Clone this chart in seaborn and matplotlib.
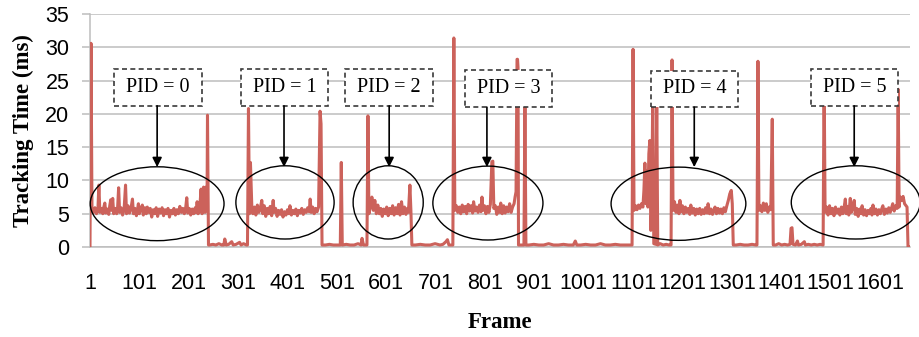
import matplotlib
matplotlib.use("Agg")
import matplotlib.pyplot as plt
import seaborn as sns
import pandas as pd
from matplotlib.patches import Rectangle, Ellipse

# ---------------- data (frame, tracking time in ms) ----------------
seg_pid0 = [(1, 0), (3, 30.6), (5, 5.8), (8, 5.2), (11, 5.9), (14, 5.0), (17, 5.6), (19, 9.3),
            (21, 5.2), (24, 5.8), (27, 5.0), (29, 6.0), (31, 6.6), (33, 5.1), (36, 5.7), (39, 4.9),
            (41, 6.2), (43, 7.1), (45, 5.5), (47, 7.3), (49, 5.0), (52, 5.8), (55, 5.0), (57, 6.0),
            (59, 8.9), (61, 5.2), (64, 5.9), (67, 4.8), (70, 5.6), (73, 9.3), (75, 5.0), (78, 6.2),
            (81, 5.1), (84, 5.8), (87, 7.2), (89, 5.0), (92, 5.8), (95, 4.7), (97, 5.5), (99, 6.5),
            (101, 5.0), (104, 5.7), (107, 6.3), (109, 4.8), (112, 5.9), (115, 5.0), (117, 6.0),
            (120, 5.2), (123, 5.8), (126, 4.5), (129, 5.6), (132, 5.0), (135, 5.9), (138, 4.6),
            (141, 5.7), (144, 5.1), (147, 5.9), (150, 4.7), (153, 5.6), (156, 5.0), (159, 5.8),
            (162, 4.5), (165, 5.5), (168, 5.0), (171, 5.8), (174, 4.8), (177, 5.6), (180, 5.0),
            (183, 6.1), (186, 5.2), (189, 5.8), (192, 5.0), (195, 6.0), (197, 7.4), (199, 5.1),
            (202, 5.8), (205, 4.8), (208, 5.7), (211, 5.0), (214, 5.9), (216, 5.2), (218, 6.8),
            (220, 5.0), (223, 5.6), (226, 8.7), (228, 5.0), (231, 9.0), (234, 5.2), (236, 9.0),
            (238, 5.5), (239, 19.8), (241, 0.3)]
seg_gap0 = [(243, 0.3), (250, 0.4), (256, 0.3), (262, 0.5), (268, 0.3), (272, 0.3), (274, 1.2),
            (277, 0.3), (282, 0.4), (288, 0.8), (291, 0.3), (297, 0.4), (304, 0.7), (307, 0.3),
            (312, 0.5), (318, 0.3)]
seg_pid1 = [(320, 0.3), (322, 20.8), (324, 5.0), (326, 12.7), (329, 5.5), (331, 5.0), (334, 6.0),
            (337, 4.8), (340, 6.3), (343, 5.2), (346, 5.9), (349, 7.0), (351, 5.0), (354, 6.2),
            (357, 4.6), (360, 5.8), (363, 5.0), (366, 6.1), (369, 4.7), (372, 7.0), (374, 5.2),
            (377, 5.8), (380, 4.6), (383, 5.5), (386, 4.9), (389, 5.6), (392, 4.5), (395, 5.3),
            (398, 4.8), (401, 5.6), (404, 5.0), (406, 6.2), (409, 4.8), (412, 5.5), (415, 5.0),
            (418, 5.7), (421, 4.7), (424, 5.5), (427, 5.1), (430, 5.8), (433, 4.9), (436, 5.6),
            (439, 5.2), (442, 5.9), (445, 5.3), (447, 7.2), (449, 5.2), (452, 6.0), (455, 5.0),
            (458, 5.8), (461, 5.3), (464, 6.0), (467, 20.4), (469, 18.5), (471, 0.3)]
seg_gap1 = [(478, 0.3), (486, 0.4), (494, 0.3), (502, 0.3), (508, 0.3), (510, 12.7), (512, 0.3),
            (520, 0.4), (528, 0.3), (536, 0.3), (544, 0.5), (550, 0.3), (552, 1.3), (555, 0.3),
            (562, 0.3)]
seg_pid2 = [(564, 19.7), (566, 5.0), (569, 6.0), (572, 7.5), (575, 5.5), (578, 7.0), (581, 5.0),
            (584, 6.3), (587, 5.0), (590, 5.8), (593, 4.6), (596, 5.7), (599, 5.0), (602, 6.0),
            (605, 4.7), (608, 5.8), (611, 5.0), (614, 6.2), (617, 4.8), (620, 5.9), (623, 5.0),
            (626, 6.4), (629, 4.8), (632, 6.8), (635, 5.0), (638, 6.0), (641, 4.9), (644, 5.8),
            (646, 5.2), (649, 9.3), (651, 5.5), (653, 0.3)]
seg_gap2 = [(660, 0.3), (670, 0.4), (680, 0.3), (690, 0.3), (700, 0.5), (710, 0.3), (716, 0.4),
            (722, 0.8), (725, 1.1), (728, 0.3), (733, 0.3), (736, 0.3)]
seg_pid3 = [(738, 31.4), (740, 5.5), (743, 6.2), (746, 5.2), (749, 6.0), (752, 5.0), (755, 6.3),
            (758, 5.3), (761, 6.1), (764, 5.0), (767, 6.4), (770, 5.4), (773, 6.2), (776, 5.1),
            (778, 6.8), (781, 5.4), (784, 6.0), (787, 5.2), (790, 6.3), (793, 5.3), (795, 7.5),
            (797, 5.5), (800, 6.2), (803, 5.0), (806, 6.1), (809, 5.2), (812, 6.4), (815, 12.8),
            (817, 12.9), (819, 5.8), (822, 6.2), (825, 4.9), (828, 6.0), (831, 5.2), (833, 6.6),
            (836, 5.0), (839, 6.2), (842, 5.1), (845, 6.0), (848, 5.3), (851, 6.5), (854, 5.2),
            (857, 6.0), (860, 6.5), (862, 7.5), (864, 8.3), (866, 28.2), (867, 28.2), (868, 27.0),
            (869, 0.3), (872, 0.3), (880, 0.3), (882, 22.0), (884, 0.3)]
seg_gap3 = [(890, 0.3), (900, 0.4), (910, 0.3), (920, 0.3), (930, 0.5), (940, 0.3), (950, 0.3),
            (960, 0.4), (970, 0.3), (980, 0.3), (984, 0.9), (987, 0.3), (995, 0.3), (1005, 0.4),
            (1015, 0.3), (1025, 0.3), (1035, 0.5), (1045, 0.3), (1055, 0.3), (1065, 0.4),
            (1075, 0.3), (1085, 0.3), (1095, 0.3), (1099, 0.3)]
seg_pid4 = [(1101, 29.7), (1103, 5.5), (1106, 6.2), (1109, 5.6), (1112, 6.3), (1115, 5.8),
            (1118, 6.5), (1121, 6.0), (1123, 8.5), (1125, 12.6), (1127, 6.5), (1129, 11.5),
            (1131, 6.0), (1133, 14.0), (1135, 16.0), (1137, 2.5), (1139, 6.0), (1141, 24.0),
            (1143, 0.5), (1147, 0.4), (1149, 23.0), (1151, 0.3), (1156, 0.5), (1162, 0.3),
            (1168, 0.4), (1174, 0.3), (1178, 0.3), (1180, 28.1), (1182, 5.5), (1185, 6.8),
            (1188, 5.2), (1191, 6.3), (1194, 5.0), (1196, 7.0), (1198, 5.3), (1201, 6.2),
            (1204, 5.0), (1207, 6.0), (1210, 5.2), (1213, 5.8), (1216, 4.9), (1218, 6.3),
            (1221, 5.1), (1224, 5.8), (1227, 4.8), (1230, 5.7), (1233, 5.0), (1236, 5.8),
            (1239, 4.9), (1242, 5.6), (1245, 5.0), (1248, 5.9), (1251, 5.1), (1253, 6.5),
            (1256, 5.0), (1259, 5.7), (1262, 4.9), (1265, 5.6), (1267, 6.0), (1270, 5.0),
            (1273, 5.8), (1276, 5.1), (1279, 5.7), (1282, 5.0), (1285, 5.9), (1288, 5.3),
            (1291, 6.2), (1294, 7.0), (1297, 8.0), (1300, 8.5), (1302, 6.5), (1304, 0.3)]
seg_gap4 = [(1310, 0.3), (1318, 0.4), (1326, 0.3), (1334, 0.3), (1342, 0.4), (1350, 0.3),
            (1352, 0.3), (1354, 27.9), (1356, 5.5), (1359, 6.2), (1362, 5.3), (1365, 6.6),
            (1368, 5.5), (1371, 6.5), (1374, 5.2), (1377, 6.0), (1380, 5.6), (1383, 19.2),
            (1385, 0.3), (1390, 0.3), (1396, 0.5), (1402, 0.3), (1408, 0.4), (1414, 0.3),
            (1419, 0.4), (1421, 2.8), (1423, 2.9), (1425, 0.4), (1430, 0.3), (1434, 0.9),
            (1436, 0.3), (1442, 0.4), (1448, 0.8), (1450, 0.3), (1456, 0.4), (1462, 0.3),
            (1468, 0.4), (1474, 0.3), (1480, 0.4), (1486, 0.3)]
seg_pid5 = [(1488, 26.3), (1490, 5.2), (1493, 6.0), (1496, 4.8), (1499, 6.2), (1502, 5.0),
            (1505, 5.8), (1508, 4.7), (1511, 6.0), (1514, 5.1), (1517, 5.7), (1520, 4.8),
            (1523, 6.0), (1526, 5.0), (1529, 6.2), (1531, 7.2), (1533, 5.0), (1536, 6.1),
            (1538, 4.8), (1541, 7.3), (1543, 5.2), (1546, 6.0), (1549, 7.0), (1551, 4.9),
            (1554, 5.8), (1557, 4.6), (1560, 5.7), (1563, 5.0), (1565, 6.2), (1568, 4.8),
            (1571, 5.6), (1574, 4.7), (1577, 5.5), (1580, 5.0), (1583, 5.8), (1585, 4.8),
            (1587, 6.3), (1590, 5.0), (1593, 5.7), (1596, 4.8), (1599, 5.6), (1602, 5.0),
            (1605, 5.8), (1607, 6.2), (1610, 4.9), (1613, 5.7), (1616, 5.1), (1619, 5.9),
            (1622, 5.2), (1625, 6.0), (1627, 6.5), (1630, 5.4), (1633, 6.2), (1636, 5.8),
            (1638, 23.7), (1640, 6.0), (1642, 7.5), (1645, 7.0), (1648, 7.6), (1651, 6.5),
            (1654, 6.2), (1656, 6.0), (1658, 0.0), (1662, 0.0)]

segments = [seg_pid0, seg_gap0, seg_pid1, seg_gap1, seg_pid2, seg_gap2, seg_pid3,
            seg_gap3, seg_pid4, seg_gap4, seg_pid5]
frames = [f for seg in segments for f, _ in seg]
times = [v for seg in segments for _, v in seg]
df = pd.DataFrame({"Frame": frames, "Time": times})

x_ticks = [1, 101, 201, 301, 401, 501, 601, 701, 801, 901, 1001, 1101, 1201, 1301, 1401, 1501, 1601]
x_tick_labels = [str(t) for t in x_ticks]
y_ticks = [0, 5, 10, 15, 20, 25, 30, 35]
pid_labels = ["PID = 0", "PID = 1", "PID = 2", "PID = 3", "PID = 4", "PID = 5"]

# ---------------- annotation layout (frame / ms coordinates) ----------------
box_x0 = [50, 307, 518, 761, 1137, 1462]
box_x1 = [228, 483, 696, 937, 1314, 1638]
box_y0 = [21.2, 21.2, 21.2, 21.0, 21.0, 21.2]
box_y1 = [26.7, 26.7, 26.7, 26.6, 26.5, 26.7]
arrow_x = [137, 394, 607, 805, 1225, 1549]
ell_cx = [137, 396, 605, 807, 1193, 1552]
ell_cy = [6.5, 6.7, 6.7, 6.6, 6.5, 6.7]
ell_w = [271, 199, 142, 223, 273, 261]
ell_h = [11.1, 11.0, 11.0, 11.1, 11.0, 11.0]

# ---------------- style ----------------
sns.set_style("white")
plt.rcParams["font.family"] = ["Liberation Sans", "DejaVu Sans"]
plt.rcParams["text.color"] = "black"
plt.rcParams["xtick.color"] = "black"
plt.rcParams["ytick.color"] = "black"

RED = "#CC625B"
GRID = "#BDBDBD"

fig = plt.figure(figsize=(9.19, 3.37), dpi=100)
ax = fig.add_axes([90 / 919, 1 - 247 / 337, 820 / 919, 233 / 337])

sns.lineplot(data=df, x="Frame", y="Time", ax=ax, color=RED, linewidth=2.2,
             estimator=None, sort=False, zorder=3)

ax.set_xlim(1, 1662)
ax.set_ylim(0, 35)
ax.set_xticks(x_ticks)
ax.set_xticklabels(x_tick_labels)
ax.set_yticks(y_ticks)
ax.set_yticklabels([str(t) for t in y_ticks])
ax.set_xlabel("")
ax.set_ylabel("")
ax.grid(axis="y", color=GRID, linewidth=1.1)
ax.grid(axis="x", visible=False)
ax.set_axisbelow(True)
for s in ["top", "right"]:
    ax.spines[s].set_visible(False)
for s in ["left", "bottom"]:
    ax.spines[s].set_color(GRID)
    ax.spines[s].set_linewidth(1.1)
    ax.spines[s].set_zorder(1)

ax.tick_params(axis="y", length=5.8, width=1.1, color=GRID, labelcolor="black", pad=9,
               labelsize=15.5, left=True)
ax.tick_params(axis="x", length=0, pad=19, labelsize=15.5, labelcolor="black")

fig.text(23 / 919, 1 - 131 / 337, "Tracking Time (ms)", rotation=90, ha="center", va="center",
         family=["Liberation Serif", "DejaVu Serif"], fontweight="bold", fontsize=16.5)
fig.text(500 / 919, 1 - 322 / 337, "Frame", ha="center", va="center",
         family=["Liberation Serif", "DejaVu Serif"], fontweight="bold", fontsize=16.5)

for i, lab in enumerate(pid_labels):
    ax.add_patch(Ellipse((ell_cx[i], ell_cy[i]), ell_w[i], ell_h[i], fill=False,
                         edgecolor="black", linewidth=1.0, zorder=4, clip_on=False))
    ax.add_patch(Rectangle((box_x0[i], box_y0[i]), box_x1[i] - box_x0[i], box_y1[i] - box_y0[i],
                           facecolor="white", edgecolor="#3a3a3a", linewidth=1.2,
                           linestyle=(0, (3, 2)), zorder=5, clip_on=False))
    ax.text((box_x0[i] + box_x1[i]) / 2, (box_y0[i] + box_y1[i]) / 2, lab, ha="center", va="center",
            family=["Liberation Serif", "DejaVu Serif"], fontsize=14.5, zorder=6)
    ax.annotate("", xy=(arrow_x[i], 12.0), xytext=(arrow_x[i], box_y0[i]),
                arrowprops=dict(arrowstyle="-|>", color="black", lw=1.2, mutation_scale=14,
                                shrinkA=0, shrinkB=0), zorder=6)

fig.savefig("out.png", dpi=100)
